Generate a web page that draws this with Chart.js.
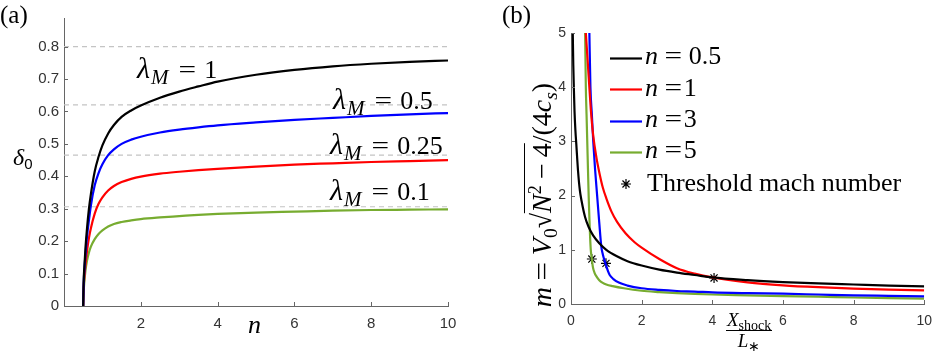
<!DOCTYPE html>
<html lang="en">
<head>
<meta charset="UTF-8">
<title>Shock threshold curves</title>
<script src="https://cdn.jsdelivr.net/npm/chart.js"></script>
<style>
    * { margin: 0; padding: 0; box-sizing: border-box; }
    body { width: 941px; height: 352px; background: #fff; position: relative; overflow: hidden; }
    canvas { position: absolute; top: 0; }
    #chartA { left: 0; }
    #chartB { left: 470px; }
    .lbl {
        position: absolute;
        font-family: 'Liberation Serif', serif;
        font-size: 26px;
        line-height: 26px;
        white-space: nowrap;
        color: #000;
    }
    .lbl sub { font-size: 0.7em; vertical-align: -0.3em; line-height: 0; }
    .lbl sup { font-size: 0.65em; vertical-align: 0.55em; line-height: 0; }
    .eq { display: inline-block; margin: 0 8px; transform: scaleX(1.2); }
    .lam { font-size: 30px; }
    .lam + sub { font-size: 21px; margin-left: 1px; }
    .lam ~ .eq { margin: 0 10px 0 11px; }
    .sans { font-family: 'Liberation Sans', sans-serif; }
</style>
</head>
<body>
<canvas id="chartA" width="470" height="352"></canvas>
<canvas id="chartB" width="471" height="352"></canvas>

<!-- panel (a) text -->
<div class="lbl" style="left:0;top:2px;font-size:25px;">(a)</div>
<div class="lbl" style="left:13px;top:144px;font-size:24px;"><i>δ</i><sub class="sans" style="font-size:15px;vertical-align:-4px;">0</sub></div>
<div class="lbl" style="left:248px;top:312px;"><i>n</i></div>
<div class="lbl" style="left:137px;top:55px;"><i class="lam">λ</i><sub><i>M</i></sub><span class="eq">=</span>1</div>
<div class="lbl" style="left:333px;top:86px;"><i class="lam">λ</i><sub><i>M</i></sub><span class="eq">=</span>0.5</div>
<div class="lbl" style="left:330px;top:131px;"><i class="lam">λ</i><sub><i>M</i></sub><span class="eq">=</span>0.25</div>
<div class="lbl" style="left:330px;top:177px;"><i class="lam">λ</i><sub><i>M</i></sub><span class="eq">=</span>0.1</div>

<!-- panel (b) text -->
<div class="lbl" style="left:502px;top:2px;font-size:25px;">(b)</div>
<div class="lbl" style="left:542px;top:195px;font-size:28px;transform:translate(-50%,-50%) rotate(-90deg);"><i>m</i><span class="eq">=</span><i>V</i><sub>0</sub>√<span style="border-top:1.5px solid #000;padding-top:1px;"><i>N</i><sup>2</sup><span style="margin:0 6px;">−</span>4</span>/(4<i>c</i><sub><i>s</i></sub>)</div>
<div class="lbl" style="left:726px;top:310px;font-size:19px;line-height:19px;text-align:center;">
    <div style="border-bottom:1px solid #000;padding:0 1px 1px;"><i>X</i><sub style="font-size:14px;">shock</sub></div>
    <div><i>L</i><sub style="font-size:14px;">∗</sub></div>
</div>
<div class="lbl" style="left:645px;top:43px;"><i>n</i><span class="eq">=</span>0.5</div>
<div class="lbl" style="left:645px;top:75px;"><i>n</i><span class="eq" style="margin-right:3px;">=</span>1</div>
<div class="lbl" style="left:645px;top:106px;"><i>n</i><span class="eq" style="margin-right:3px;">=</span>3</div>
<div class="lbl" style="left:645px;top:137px;"><i>n</i><span class="eq" style="margin-right:3px;">=</span>5</div>
<div class="lbl" style="left:647px;top:170px;">Threshold mach number</div>

<script>
    // ---- panel (a): delta_0 against n ----
    const nVals = [0.5, 0.51, 0.53, 0.56, 0.6, 0.65, 0.7, 0.8, 0.9, 1.0, 1.15, 1.3, 1.5, 1.75, 2, 2.5, 3, 3.5, 4, 5, 6, 7, 8, 9, 10];
    const deltaLam1   = [0, 0.07, 0.12, 0.18, 0.24, 0.30, 0.345, 0.415, 0.46, 0.495, 0.532, 0.558, 0.583, 0.603, 0.618, 0.642, 0.661, 0.677, 0.692, 0.713, 0.728, 0.739, 0.747, 0.753, 0.757];
    const deltaLam05  = [0, 0.06, 0.11, 0.16, 0.215, 0.265, 0.31, 0.372, 0.41, 0.437, 0.465, 0.483, 0.5, 0.513, 0.522, 0.535, 0.544, 0.551, 0.557, 0.566, 0.574, 0.58, 0.586, 0.591, 0.595];
    const deltaLam025 = [0, 0.05, 0.09, 0.13, 0.17, 0.21, 0.24, 0.285, 0.315, 0.335, 0.356, 0.37, 0.382, 0.392, 0.399, 0.408, 0.414, 0.419, 0.423, 0.43, 0.436, 0.44, 0.444, 0.447, 0.45];
    const deltaLam01  = [0, 0.04, 0.075, 0.11, 0.14, 0.165, 0.183, 0.206, 0.222, 0.233, 0.245, 0.253, 0.259, 0.264, 0.268, 0.273, 0.277, 0.281, 0.284, 0.288, 0.291, 0.294, 0.296, 0.297, 0.298];
    const asymptotes  = [0.8, 0.62, 0.465, 0.306];
    const xTicksA = [2, 4, 6, 8, 10];
    const yTicksA = [0, 0.1, 0.2, 0.3, 0.4, 0.5, 0.6, 0.7, 0.8];

    // ---- panel (b): m against X_shock / L_* ----
    const xN05 = [0.05, 0.065, 0.08, 0.1, 0.125, 0.15, 0.2, 0.25, 0.3, 0.4, 0.5, 0.63, 0.8, 1.0, 1.3, 1.6, 2, 2.5, 3, 3.5, 4, 5, 6, 7, 8, 9, 10];
    const mN05 = [5.0, 4.4, 4.0, 3.55, 3.2, 2.95, 2.45, 2.1, 1.9, 1.6, 1.42, 1.26, 1.12, 1.0, 0.88, 0.79, 0.71, 0.635, 0.58, 0.535, 0.49, 0.44, 0.405, 0.38, 0.36, 0.34, 0.325];
    const xN1 = [0.42, 0.5, 0.56, 0.63, 0.72, 0.81, 0.9, 1.0, 1.15, 1.3, 1.55, 1.8, 2.0, 2.5, 3.0, 3.5, 4.0, 5, 6, 7, 8, 9, 10];
    const mN1 = [5.0, 4.2, 3.6, 3.1, 2.7, 2.4, 2.15, 1.95, 1.7, 1.52, 1.3, 1.14, 1.04, 0.83, 0.66, 0.56, 0.49, 0.4, 0.345, 0.31, 0.285, 0.265, 0.25];
    const xN3 = [0.52, 0.55, 0.59, 0.63, 0.68, 0.74, 0.8, 0.86, 0.9, 0.95, 1.0, 1.05, 1.1, 1.2, 1.37, 1.6, 2.0, 2.5, 3.0, 3.5, 4, 5, 6, 7, 8, 9, 10];
    const mN3 = [5.0, 4.0, 3.5, 3.0, 2.5, 2.0, 1.5, 1.05, 0.92, 0.8, 0.7, 0.6, 0.53, 0.46, 0.39, 0.34, 0.29, 0.26, 0.24, 0.23, 0.215, 0.2, 0.19, 0.175, 0.16, 0.15, 0.14];
    const xN5 = [0.4, 0.42, 0.44, 0.46, 0.48, 0.5, 0.52, 0.54, 0.56, 0.59, 0.62, 0.67, 0.72, 0.8, 0.9, 1.0, 1.18, 1.5, 2.0, 2.5, 3.0, 3.5, 4, 5, 6, 7, 8, 9, 10];
    const mN5 = [5.0, 4.0, 3.5, 3.0, 2.5, 2.0, 1.6, 1.25, 1.0, 0.83, 0.68, 0.57, 0.51, 0.44, 0.39, 0.36, 0.33, 0.29, 0.245, 0.22, 0.2, 0.185, 0.175, 0.16, 0.145, 0.135, 0.12, 0.11, 0.1];
    const starX = [0.59, 0.99, 4.05];
    const starM = [0.83, 0.75, 0.48];
    const xTicksB = [0, 2, 4, 6, 8, 10];
    const yTicksB = [0, 1, 2, 3, 4, 5];

    const AXIS = '#666';
    const TICK_TXT = '#333';
    const GREEN = '#77ac30';

    const zip = (xs, ys) => xs.map((x, i) => ({ x: x, y: ys[i] }));

    function curve(label, xs, ys, color) {
        return {
            label: label,
            data: zip(xs, ys),
            borderColor: color,
            backgroundColor: color,
            borderWidth: 2.2,
            pointRadius: 0,
            cubicInterpolationMode: 'monotone',
            fill: false
        };
    }

    // small inward tick marks, MATLAB style
    const innerTicks = {
        id: 'innerTicks',
        afterDraw(chart) {
            const { ctx, chartArea: a } = chart;
            const xs = chart.scales.x, ys = chart.scales.y;
            ctx.save();
            ctx.strokeStyle = AXIS;
            ctx.lineWidth = 1;
            xs.ticks.forEach(t => {
                const px = Math.round(xs.getPixelForValue(t.value)) + 0.5;
                ctx.beginPath(); ctx.moveTo(px, a.bottom); ctx.lineTo(px, a.bottom - 4); ctx.stroke();
            });
            ys.ticks.forEach(t => {
                const py = Math.round(ys.getPixelForValue(t.value)) + 0.5;
                ctx.beginPath(); ctx.moveTo(a.left, py); ctx.lineTo(a.left + 4, py); ctx.stroke();
            });
            ctx.restore();
        }
    };

    function axisOpts(ticksArr, min, max, fontSize, size, horizontal, fmt) {
        return {
            type: 'linear',
            min: min,
            max: max,
            afterBuildTicks: s => { s.ticks = ticksArr.map(v => ({ value: v })); },
            afterFit: s => { if (horizontal) s.height = size; else s.width = size; },
            grid: { display: false, drawTicks: false },
            border: { display: true, color: AXIS, width: 1 },
            ticks: {
                color: TICK_TXT,
                padding: horizontal ? 9 : 5,
                font: { family: 'Liberation Sans', size: fontSize },
                callback: fmt
            }
        };
    }

    // panel (a)
    const dsA = [
        curve('λM = 1', nVals, deltaLam1, '#000000'),
        curve('λM = 0.5', nVals, deltaLam05, '#0000ff'),
        curve('λM = 0.25', nVals, deltaLam025, '#ff0000'),
        curve('λM = 0.1', nVals, deltaLam01, GREEN)
    ];
    asymptotes.forEach(a => {
        dsA.push({
            label: 'asymptote ' + a,
            data: [{ x: 0, y: a }, { x: 10, y: a }],
            borderColor: '#c4c4c4',
            borderWidth: 1.2,
            borderDash: [5, 4],
            pointRadius: 0,
            order: 10
        });
    });

    new Chart(document.getElementById('chartA'), {
        type: 'line',
        data: { datasets: dsA },
        options: {
            responsive: false,
            animation: false,
            events: [],
            layout: { padding: { top: 18, right: 22, left: 0, bottom: 0 } },
            plugins: { legend: { display: false }, tooltip: { enabled: false } },
            scales: {
                x: axisOpts(xTicksA, 0, 10, 15, 46, true, v => String(v)),
                y: axisOpts(yTicksA, 0, 0.888, 15, 64, false, v => v === 0 ? '0' : v.toFixed(1))
            }
        },
        plugins: [innerTicks]
    });

    // legend samples for panel (b), drawn on the canvas
    const legendB = {
        id: 'legendB',
        afterDraw(chart) {
            const ctx = chart.ctx;
            const rows = [['#000000', 58.5], ['#ff0000', 89.5], ['#0000ff', 121.5], [GREEN, 152.5]];
            ctx.save();
            ctx.lineWidth = 2.2;
            rows.forEach(r => {
                ctx.strokeStyle = r[0];
                ctx.beginPath(); ctx.moveTo(140, r[1]); ctx.lineTo(172, r[1]); ctx.stroke();
            });
            ctx.strokeStyle = '#000';
            ctx.lineWidth = 1.2;
            Chart.helpers.drawPoint(ctx, { pointStyle: 'star', radius: 5, borderWidth: 1.2, rotation: 0 }, 156, 184);
            ctx.restore();
        }
    };

    // panel (b)
    const dsB = [
        curve('n = 0.5', xN05, mN05, '#000000'),
        curve('n = 1', xN1, mN1, '#ff0000'),
        curve('n = 3', xN3, mN3, '#0000ff'),
        curve('n = 5', xN5, mN5, GREEN),
        {
            label: 'Threshold mach number',
            data: zip(starX, starM),
            showLine: false,
            pointStyle: 'star',
            pointRadius: 5,
            borderColor: '#000',
            backgroundColor: '#000',
            pointBorderWidth: 1.2
        }
    ];

    new Chart(document.getElementById('chartB'), {
        type: 'line',
        data: { datasets: dsB },
        options: {
            responsive: false,
            animation: false,
            events: [],
            layout: { padding: { top: 33, right: 9, left: 0, bottom: 0 } },
            plugins: { legend: { display: false }, tooltip: { enabled: false } },
            scales: {
                x: axisOpts(xTicksB, 0, 10, 14, 48, true, v => String(v)),
                y: axisOpts(yTicksB, 0, 5, 14, 101, false, v => String(v))
            }
        },
        plugins: [innerTicks, legendB]
    });
</script>
</body>
</html>
